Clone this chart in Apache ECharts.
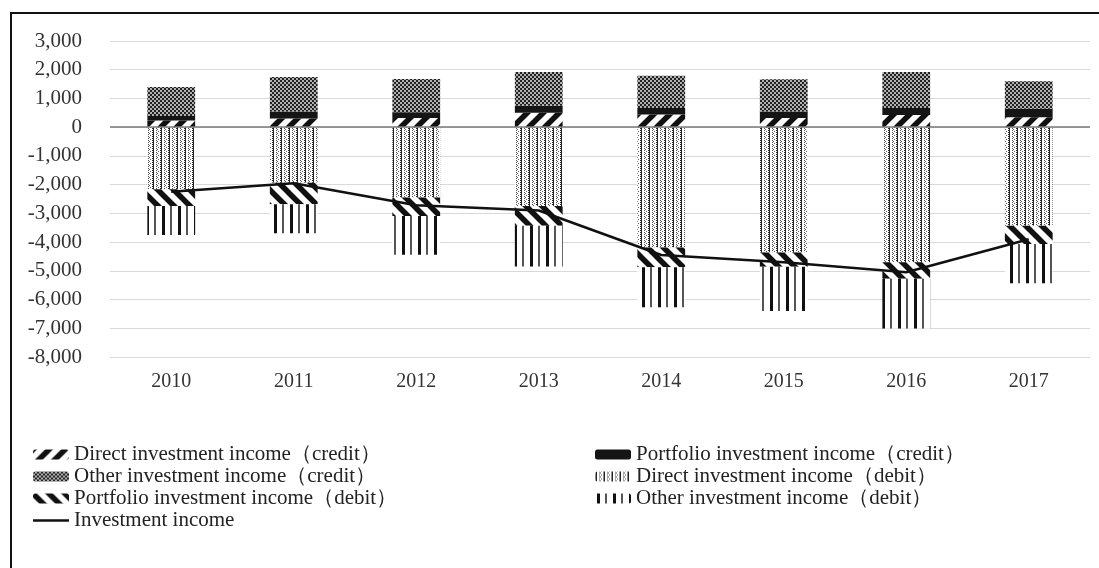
<!DOCTYPE html>
<html>
<head>
<meta charset="utf-8">
<script src="https://cdn.jsdelivr.net/npm/echarts@6/dist/echarts.min.js"></script>
<style>
  html, body { margin: 0; padding: 0; background: #fff; }
  #chart { width: 1099px; height: 568px; }
</style>
</head>
<body>
<div id="chart"></div>
<script>
var years = ["2010", "2011", "2012", "2013", "2014", "2015", "2016", "2017"];
var directCredit = [230, 300, 320, 500, 440, 320, 420, 350];
var portfolioCredit = [160, 250, 200, 250, 230, 230, 250, 290];
var otherCredit = [1010, 1200, 1160, 1170, 1120, 1120, 1250, 960];
var directDebit = [-2160, -1930, -2450, -2740, -4190, -4360, -4700, -3430];
var portfolioDebit = [-580, -750, -640, -690, -690, -500, -580, -640];
var otherDebit = [-1010, -1010, -1350, -1420, -1390, -1540, -1730, -1360];
var investmentIncome = [-2250, -1950, -2720, -2900, -4450, -4700, -5050, -3900];
var yTicks = { min: -8000, max: 3000, step: 1000 };

// little canvas tiles used as bar fills
function tile(w, h, draw) {
  var c = document.createElement("canvas");
  c.width = w;
  c.height = h;
  var ctx = c.getContext("2d");
  ctx.fillStyle = "#fff";
  ctx.fillRect(0, 0, w, h);
  draw(ctx);
  return { image: c, repeat: "repeat" };
}

function slashes(dir) {
  return tile(16, 16, function (ctx) {
    ctx.strokeStyle = "#111";
    ctx.lineWidth = 5.5;
    for (var k = -1; k <= 1; k++) {
      ctx.beginPath();
      if (dir > 0) {
        ctx.moveTo(k * 16 - 2, 18);
        ctx.lineTo(k * 16 + 18, -2);
      } else {
        ctx.moveTo(k * 16 - 2, -2);
        ctx.lineTo(k * 16 + 18, 18);
      }
      ctx.stroke();
    }
  });
}

var patDirectCredit = slashes(1);
var patPortfolioDebit = slashes(-1);
var patOtherCredit = tile(4, 4, function (ctx) {
  ctx.fillStyle = "#b0b0b0";
  ctx.fillRect(0, 0, 4, 4);
  ctx.fillStyle = "#222";
  ctx.fillRect(0, 0, 2, 2);
  ctx.fillRect(2, 2, 2, 2);
});
var patDirectDebit = tile(8, 4, function (ctx) {
  ctx.fillStyle = "#222";
  ctx.fillRect(0, 0, 2, 1);
  ctx.fillRect(1, 1, 1, 1);
  ctx.fillRect(0, 2, 2, 1);
  ctx.fillRect(1, 3, 1, 1);
  ctx.fillStyle = "#555";
  ctx.fillRect(4, 0, 1, 1);
  ctx.fillRect(5, 1, 1, 1);
  ctx.fillRect(4, 2, 1, 1);
  ctx.fillRect(6, 3, 1, 1);
});
var patOtherDebit = tile(16, 4, function (ctx) {
  ctx.fillStyle = "#111";
  ctx.fillRect(2, 0, 3, 4);
  ctx.fillStyle = "#555";
  ctx.fillRect(10, 0, 2, 4);
});

var names = [
  "Direct investment income（credit）",
  "Portfolio investment income（credit）",
  "Other investment income（credit）",
  "Direct investment income（debit）",
  "Portfolio investment income（debit）",
  "Other investment income（debit）",
  "Investment income",
];

function barSeries(name, data, fill) {
  return {
    name: name,
    type: "bar",
    stack: "total",
    barWidth: "39%",
    itemStyle: { color: fill },
    data: data,
  };
}

var font = "'Liberation Serif', 'Times New Roman', serif";
var legendCommon = {
  orient: "vertical",
  top: 439,
  itemWidth: 36,
  itemHeight: 10,
  itemGap: 1,
  textStyle: { fontFamily: font, fontSize: 21, color: "#222" },
};

var chart = echarts.init(document.getElementById("chart"));
var option = {
  animation: false,
  backgroundColor: "#fff",
  textStyle: { fontFamily: font },
  grid: { left: 110, right: 9, top: 41, bottom: 211 },
  graphic: [
    {
      type: "rect",
      shape: { x: 11, y: 13, width: 1200, height: 700 },
      style: { fill: "none", stroke: "#111", lineWidth: 2 },
      silent: true,
    },
  ],
  legend: [
    Object.assign(
      {
        left: 28,
        data: [
          names[0],
          names[2],
          names[4],
          { name: names[6], icon: "path://M0,0 L36,0 L36,2.5 L0,2.5 Z" },
        ],
      },
      legendCommon
    ),
    Object.assign({ left: 590, data: [names[1], names[3], names[5]] }, legendCommon),
  ],
  xAxis: {
    type: "category",
    data: years,
    axisLine: { show: false, onZero: false },
    axisTick: { show: false },
    axisLabel: { margin: 15, fontSize: 20, color: "#333", fontFamily: font },
  },
  yAxis: {
    type: "value",
    min: yTicks.min,
    max: yTicks.max,
    interval: yTicks.step,
    axisLine: { show: false },
    axisTick: { show: false },
    splitLine: { lineStyle: { color: "#d9d9d9", width: 1 } },
    axisLabel: {
      margin: 28,
      fontSize: 21,
      color: "#333",
      fontFamily: font,
      formatter: function (v) {
        return v.toLocaleString("en-US");
      },
    },
  },
  series: [
    barSeries(names[0], directCredit, patDirectCredit),
    barSeries(names[1], portfolioCredit, "#151515"),
    barSeries(names[2], otherCredit, patOtherCredit),
    barSeries(names[3], directDebit, patDirectDebit),
    barSeries(names[4], portfolioDebit, patPortfolioDebit),
    barSeries(names[5], otherDebit, patOtherDebit),
    {
      name: names[6],
      type: "line",
      symbol: "none",
      z: 5,
      lineStyle: { color: "#111", width: 2.5 },
      itemStyle: { color: "#111" },
      data: investmentIncome,
      markLine: {
        silent: true,
        symbol: "none",
        label: { show: false },
        lineStyle: { color: "#7a7a7a", width: 1.5, type: "solid" },
        data: [{ yAxis: 0 }],
      },
    },
  ],
};

option && chart.setOption(option);
</script>
</body>
</html>
